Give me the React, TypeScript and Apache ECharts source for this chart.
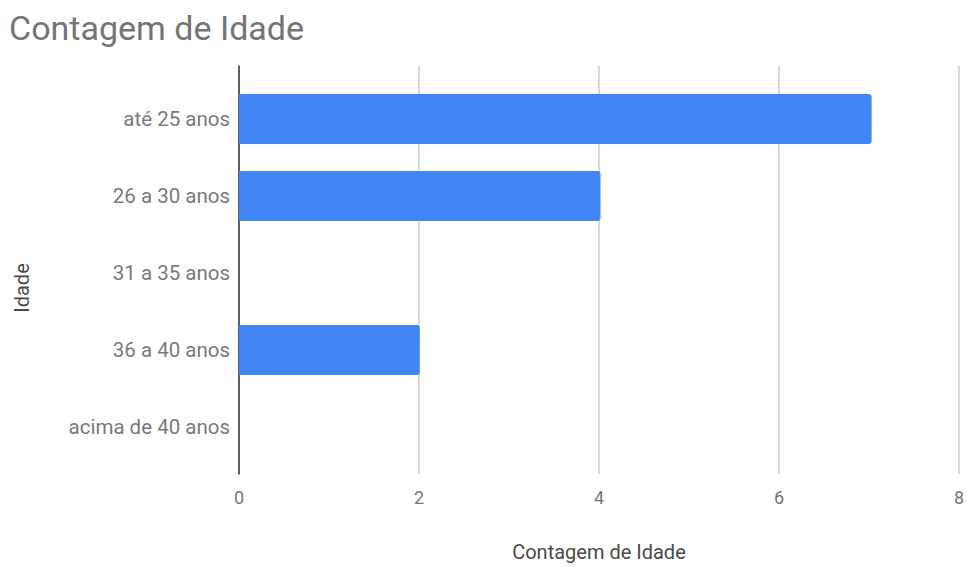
import React, { useEffect, useRef } from "react";
import * as echarts from "echarts";

const categories = ["até 25 anos", "26 a 30 anos", "31 a 35 anos", "36 a 40 anos", "acima de 40 anos"];
const counts = [7, 4, 0, 2, 0];
const xTicks = [0, 2, 4, 6, 8];

const FONT = "Roboto, 'Noto Sans', sans-serif";

export default function App() {
  const ref = useRef<HTMLDivElement>(null);
  useEffect(() => {
    if (!ref.current) return;
    const chart = echarts.init(ref.current, null, { renderer: "svg" });
    const L = 239, R = 5;
    chart.setOption({
      animation: false,
      backgroundColor: "#ffffff",
      title: {
        text: "Contagem de Idade",
        left: 9,
        top: 11,
        padding: 0,
        textStyle: { fontFamily: FONT, fontSize: 34, fontWeight: "normal", color: "#757575" },
      },
      grid: [
        { left: L, right: R, top: 66, bottom: 89, containLabel: false },
        { left: L, right: R, top: 80.5, bottom: 101.5, containLabel: false },
      ],
      xAxis: [
        {
          gridIndex: 0,
          type: "value",
          min: xTicks[0],
          max: xTicks[xTicks.length - 1],
          interval: 2,
          axisLine: { show: false },
          axisTick: { show: false },
          splitLine: { show: true, lineStyle: { color: "#cccccc", width: 1.5 } },
          axisLabel: { color: "#757575", fontFamily: FONT, fontSize: 18, margin: 14 },
          name: "Contagem de Idade",
          nameLocation: "middle",
          nameGap: 68,
          nameTextStyle: { color: "#4a4a4a", fontFamily: FONT, fontSize: 20 },
        },
        {
          gridIndex: 1,
          type: "value",
          min: 0,
          max: 8,
          interval: 2,
          show: false,
        },
      ],
      yAxis: [
        {
          gridIndex: 0,
          type: "category",
          data: categories,
          inverse: true,
          axisLine: { show: true, lineStyle: { color: "#333333", width: 1.5 } },
          axisTick: { show: false },
          axisLabel: { show: false },
          splitLine: { show: false },
        },
        {
          gridIndex: 1,
          type: "category",
          data: categories,
          inverse: true,
          axisLine: { show: false },
          axisTick: { show: false },
          axisLabel: { color: "#7a7a7a", fontFamily: FONT, fontSize: 20.5, margin: 9 },
          splitLine: { show: false },
        },
      ],
      graphic: [
        {
          type: "text",
          x: 22,
          y: 288,
          rotation: Math.PI / 2,
          style: {
            text: "Idade",
            fill: "#4a4a4a",
            font: `20px ${FONT}`,
            textAlign: "center",
            textVerticalAlign: "middle",
          },
        },
      ],
      series: [
        {
          type: "bar",
          xAxisIndex: 1,
          yAxisIndex: 1,
          data: counts,
          barWidth: "65%",
          itemStyle: { color: "#4285F4", borderRadius: [0, 3, 3, 0] },
        },
      ],
    });
    return () => chart.dispose();
  }, []);
  return (
    <div
      ref={ref}
      style={{ position: "absolute", left: 0, top: 0, width: 967, height: 567 }}
    />
  );
}
